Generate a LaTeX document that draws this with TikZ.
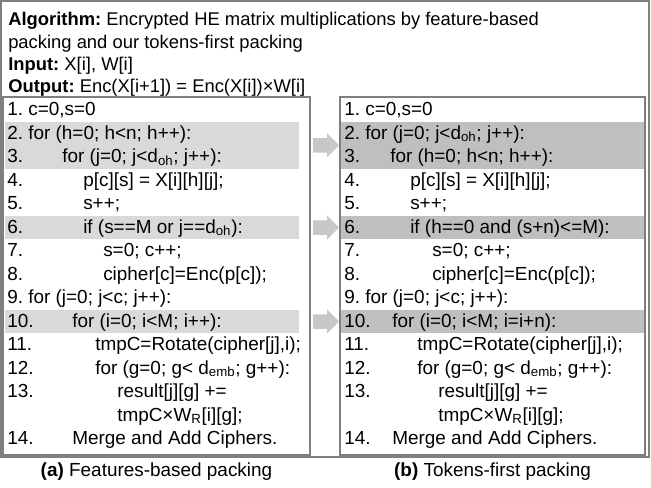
\documentclass[tikz,border=0pt]{standalone}
\usepackage{fontspec}
\setmainfont{Liberation Sans}
\usepackage{tikz}
\usetikzlibrary{positioning}
\definecolor{framegray}{HTML}{7F7F7F}
\definecolor{hlgrayA}{HTML}{D9D9D9}
\definecolor{hlgrayB}{HTML}{BFBFBF}
\definecolor{arrowgray}{HTML}{C8C8C8}
\newcommand{\codefont}{\fontsize{14.2}{16}\selectfont}
\newcommand{\headfont}{\fontsize{13.8}{16}\selectfont}
\frenchspacing
\tikzset{%
	codeline/.style = {anchor=base west, inner sep=0pt, font=\codefont}, % code text
	headline/.style = {anchor=base west, inner sep=0pt, font=\headfont}, % header text
	caption/.style  = {anchor=base, inner sep=0pt, font=\codefont}, % sub captions
	frame/.style    = {draw=framegray, line width=0.8}, % boxes
	markA/.style    = {fill=hlgrayA}, % changed lines, left
	markB/.style    = {fill=hlgrayB}, % changed lines, right
	blockarrow/.style = {fill=arrowgray}, % grey arrows
}

\begin{document}
\begin{tikzpicture}[x=0.75pt, y=-0.75pt]
		\useasboundingbox (0,0) rectangle (651,487);
		\draw[frame] (1,1) rectangle (649,457);
		% header
		\node[headline] (alg) at (8,25.5) {\textbf{Algorithm:} Encrypted HE matrix multiplications by feature-based};
		\node[headline] (alg2) at (8,48) {packing and our tokens-first packing};
		\node[headline] (inp) at (8,70) {\textbf{Input:} X[i], W[i]};
		\node[headline] (outp) at (8,92) {\textbf{Output:} Enc(X[i+1]) = Enc(X[i])×W[i]};
		% left: features-based packing
		\fill[markA] (4.5,121.75) rectangle (299,168.75);
		\fill[markA] (4.5,215.75) rectangle (299,239.25);
		\fill[markA] (4.5,309.75) rectangle (299,333.25);
		\draw[frame] (3,97) rectangle (310,455);
		\node[codeline] (a1) at (7,115.5) {1. c=0,s=0};
		\node[codeline] (a2) at (7,139) {2. for (h=0; h<n; h++):};
		\node[codeline] (a3) at (7,162.5) {3.};
		\node[codeline] (ta3) at (62,162.5) {for (j=0; j<d\textsubscript{oh}; j++):};
		\node[codeline] (a4) at (7,186) {4.};
		\node[codeline] (ta4) at (83,186) {p[c][s] = X[i][h][j];};
		\node[codeline] (a5) at (7,209.5) {5.};
		\node[codeline] (ta5) at (83,209.5) {s++;};
		\node[codeline] (a6) at (7,233) {6.};
		\node[codeline] (ta6) at (83,233) {if (s==M or j==d\textsubscript{oh}):};
		\node[codeline] (a7) at (7,256.5) {7.};
		\node[codeline] (ta7) at (103,256.5) {s=0; c++;};
		\node[codeline] (a8) at (7,280) {8.};
		\node[codeline] (ta8) at (103,280) {cipher[c]=Enc(p[c]);};
		\node[codeline] (a9) at (7,303.5) {9. for (j=0; j<c; j++):};
		\node[codeline] (a10) at (7,327) {10.};
		\node[codeline] (ta10) at (72,327) {for (i=0; i<M; i++):};
		\node[codeline] (a11) at (7,350.5) {11.};
		\node[codeline] (ta11) at (95,350.5) {tmpC=Rotate(cipher[j],i);};
		\node[codeline] (a12) at (7,374) {12.};
		\node[codeline] (ta12) at (95,374) {for (g=0; g< d\textsubscript{emb}; g++):};
		\node[codeline] (a13) at (7,397.5) {13.};
		\node[codeline] (ta13) at (117,397.5) {result[j][g] +=};
		\node[codeline] (ta13b) at (117,421) {tmpC×W\textsubscript{R}[i][g];};
		\node[codeline] (a14) at (7,444.5) {14.};
		\node[codeline] (ta14) at (72,444.5) {Merge and Add Ciphers.};
		\node[caption] (capa) at (156.5,476.5) {\textbf{(a)} Features-based packing};
		% arrows between the boxes
		\fill[blockarrow] (313,138) -- (327,138) -- (327,133) -- (339,145.25) -- (327,157.5) -- (327,152.5) -- (313,152.5) -- cycle;
		\fill[blockarrow] (313,220.25) -- (327,220.25) -- (327,215.25) -- (339,227.5) -- (327,239.75) -- (327,234.75) -- (313,234.75) -- cycle;
		\fill[blockarrow] (313,314.25) -- (327,314.25) -- (327,309.25) -- (339,321.5) -- (327,333.75) -- (327,328.75) -- (313,328.75) -- cycle;
		% right: tokens-first packing
		\fill[markB] (341,121.75) rectangle (644,168.75);
		\fill[markB] (341,215.75) rectangle (644,239.25);
		\fill[markB] (341,309.75) rectangle (644,333.25);
		\draw[frame] (340,97) rectangle (645,455);
		\node[codeline] (b1) at (344,115.5) {1. c=0,s=0};
		\node[codeline] (b2) at (344,139) {2. for (j=0; j<d\textsubscript{oh}; j++):};
		\node[codeline] (b3) at (344,162.5) {3.};
		\node[codeline] (tb3) at (390,162.5) {for (h=0; h<n; h++):};
		\node[codeline] (b4) at (344,186) {4.};
		\node[codeline] (tb4) at (410,186) {p[c][s] = X[i][h][j];};
		\node[codeline] (b5) at (344,209.5) {5.};
		\node[codeline] (tb5) at (410,209.5) {s++;};
		\node[codeline] (b6) at (344,233) {6.};
		\node[codeline] (tb6) at (410,233) {if (h==0 and (s+n)<=M):};
		\node[codeline] (b7) at (344,256.5) {7.};
		\node[codeline] (tb7) at (432,256.5) {s=0; c++;};
		\node[codeline] (b8) at (344,280) {8.};
		\node[codeline] (tb8) at (432,280) {cipher[c]=Enc(p[c]);};
		\node[codeline] (b9) at (344,303.5) {9. for (j=0; j<c; j++):};
		\node[codeline] (b10) at (344,327) {10.};
		\node[codeline] (tb10) at (392,327) {for (i=0; i<M; i=i+n):};
		\node[codeline] (b11) at (344,350.5) {11.};
		\node[codeline] (tb11) at (417,350.5) {tmpC=Rotate(cipher[j],i);};
		\node[codeline] (b12) at (344,374) {12.};
		\node[codeline] (tb12) at (417,374) {for (g=0; g< d\textsubscript{emb}; g++):};
		\node[codeline] (b13) at (344,397.5) {13.};
		\node[codeline] (tb13) at (438,397.5) {result[j][g] +=};
		\node[codeline] (tb13b) at (438,421) {tmpC×W\textsubscript{R}[i][g];};
		\node[codeline] (b14) at (344,444.5) {14.};
		\node[codeline] (tb14) at (392,444.5) {Merge and Add Ciphers.};
		\node[caption] (capb) at (492.5,476.5) {\textbf{(b)} Tokens-first packing};
\end{tikzpicture}
\end{document}
